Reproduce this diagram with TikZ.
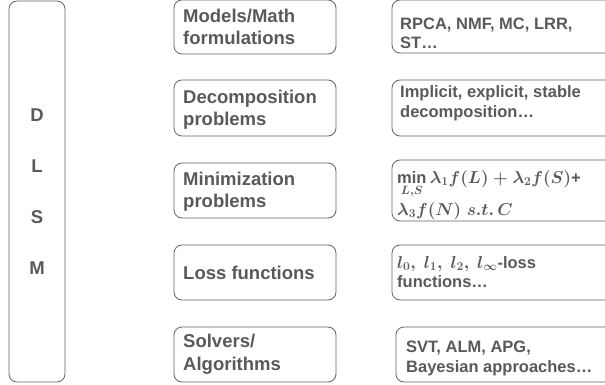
\documentclass[tikz,border=0pt]{standalone}
\usepackage{amsmath}
\usepackage{fontspec}
\setmainfont{Liberation Sans}
\definecolor{txt}{HTML}{595959}
\definecolor{edge}{HTML}{626262}
\begin{document}
\begin{tikzpicture}[x=1pt,y=-1pt,
  box/.style={draw=edge, line width=0.8pt, rounded corners=8pt, inner sep=0pt},
  midtxt/.style={anchor=base west, inner sep=0pt, text=txt, font=\fontsize{18.5}{22.2}\selectfont\bfseries},
  rtxt/.style={anchor=base west, inner sep=0pt, text=txt, font=\fontsize{16.5}{19.8}\selectfont\bfseries\boldmath},
  sidebox/.style={box, text=txt, minimum width=56pt, minimum height=381pt, align=center,
    font=\fontsize{18.5}{51}\selectfont\bfseries}]
\clip (0,0) rectangle (605,385);
% left column
\node[sidebox] (dlsm) at (37,191.5) {D\\L\\S\\M};
% middle column boxes
\node[box, minimum width=162pt, minimum height=54pt] (m1) at (255,27) {};
\node[box, minimum width=162pt, minimum height=56pt] (m2) at (255,108) {};
\node[box, minimum width=162pt, minimum height=55pt] (m3) at (255,190.5) {};
\node[box, minimum width=162pt, minimum height=55pt] (m4) at (255,272.5) {};
\node[box, minimum width=162pt, minimum height=55pt] (m5) at (255,354.5) {};
% middle column texts
\node[midtxt] (m1a) at (183,22.7) {Models/Math};
\node[midtxt] (m1b) at (183,45) {formulations};
\node[midtxt] (m2a) at (183,104) {Decomposition};
\node[midtxt] (m2b) at (183,126) {problems};
\node[midtxt] (m3a) at (183,185) {Minimization};
\node[midtxt] (m3b) at (183,207) {problems};
\node[midtxt] (m4a) at (183,279) {Loss functions};
\node[midtxt] (m5a) at (183,347) {Solvers/};
\node[midtxt] (m5b) at (183,370) {Algorithms};
% right column boxes
\node[box, minimum width=258pt, minimum height=53pt] (r1) at (521,26.5) {};
\node[box, minimum width=258pt, minimum height=56pt] (r2) at (521,108) {};
\node[box, minimum width=258pt, minimum height=61pt] (r3) at (521,190.5) {};
\node[box, minimum width=258pt, minimum height=55pt] (r4) at (521,272.5) {};
\node[box, minimum width=254pt, minimum height=55pt] (r5) at (523,354.5) {};
% right column texts
\node[rtxt] (r1a) at (400,29.5) {RPCA, NMF, MC, LRR,};
\node[rtxt] (r1b) at (400,49) {ST…};
\node[rtxt] (r2a) at (400,98) {Implicit, explicit, stable};
\node[rtxt] (r2b) at (400,117.5) {decomposition…};
\node[rtxt] (r3a) at (397,183) {$\min\limits_{L,S}\lambda_1 f(L)+\lambda_2 f(S)$+};
\node[rtxt] (r3b) at (397,215) {$\lambda_3 f(N)\;s.t.\,C$};
\node[rtxt] (r4a) at (397,268) {$l_0,\ l_1,\ l_2,\ l_\infty$-loss};
\node[rtxt] (r4b) at (397,287.5) {functions…};
\node[rtxt] (r5a) at (406,352) {SVT, ALM, APG,};
\node[rtxt] (r5b) at (406,372) {Bayesian approaches…};
\end{tikzpicture}
\end{document}
